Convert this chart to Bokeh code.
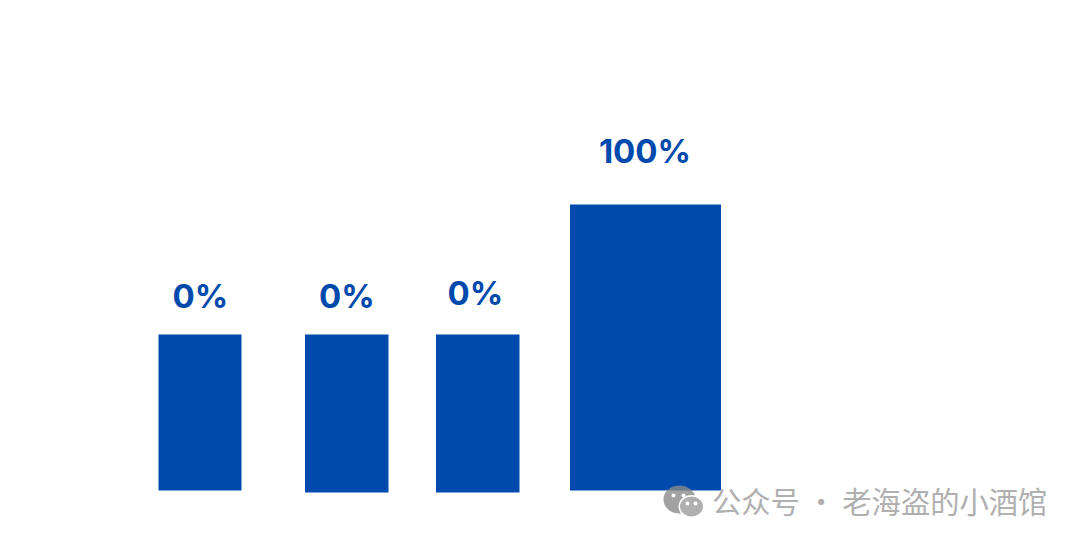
from bokeh.plotting import figure
from bokeh.models import Range1d
from bokeh.core.properties import value
from bokeh.embed import file_html
from bokeh.resources import INLINE

# Bars in screen units
bar_left = [158, 304.5, 435.5, 569.5]
bar_right = [241, 388, 519, 720.5]
bar_top = [334, 334, 334, 204]
bar_bottom = [490, 492, 492, 490]
labels = ["0%", "0%", "0%", "100%"]
label_x = [200, 346.5, 475, 644.5]
label_y = [295, 295.5, 292, 150]
watermark = "公众号 · 老海盗的小酒馆"

BLUE = "#004AAD"
GREY = "#B0B0B0"

p = figure(width=1064, height=529, output_backend="svg", toolbar_location=None,
           x_range=Range1d(0, 1064), y_range=Range1d(529, 0),
           x_axis_type=None, y_axis_type=None, min_border=0,
           outline_line_color=None, background_fill_color="white")
p.grid.visible = False

p.quad(left=bar_left, right=bar_right, top=bar_top, bottom=bar_bottom,
       fill_color=BLUE, line_color=None)
p.text(x=label_x, y=label_y, text=labels, text_align="center", text_baseline="middle",
       text_font=value("Inter"), text_font_style="bold", text_font_size="33px",
       text_color=BLUE)

# WeChat-style icon
p.ellipse(x=[679], y=[499], width=32, height=28, fill_color="#8a8a8a", fill_alpha=0.8, line_color=None)
p.ellipse(x=[691], y=[506], width=26, height=23, fill_color="white", line_color=None)
p.ellipse(x=[691], y=[506], width=23, height=20, fill_color=GREY, line_color=None)
p.scatter(x=[673, 683, 687, 695], y=[495, 495, 503, 503], size=4, fill_color="white", line_color=None)
p.text(x=[711.5], y=[499], text=[watermark], text_align="left", text_baseline="middle",
       text_font=value("Noto Sans CJK SC"), text_font_size="29.3px", text_color=GREY)

open("out.html", "w").write(file_html(p, INLINE))
